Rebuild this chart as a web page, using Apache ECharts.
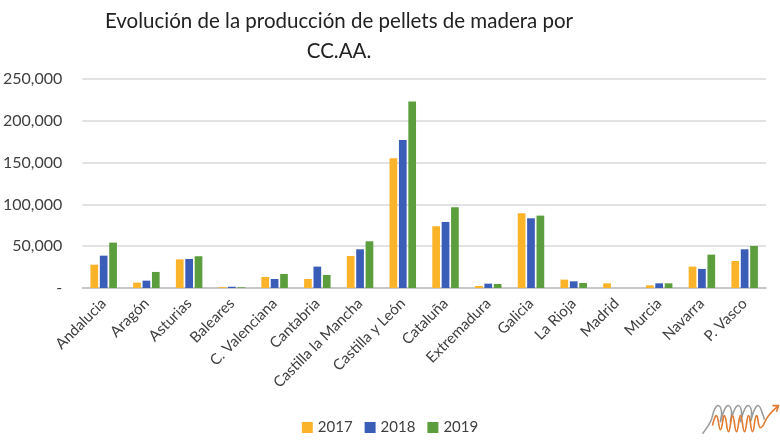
<!DOCTYPE html>
<html>
<head>
<meta charset="utf-8">
<script src="https://cdn.jsdelivr.net/npm/echarts@6/dist/echarts.min.js"></script>
<style>html,body{margin:0;padding:0;background:#fff;}#c{width:780px;height:440px;}</style>
</head>
<body>
<div id="c"></div>
<script>
const categories = ['Andalucia','Aragón','Asturias','Baleares','C. Valenciana','Cantabria','Castilla la Mancha','Castilla y León','Cataluña','Extremadura','Galicia','La Rioja','Madrid','Murcia','Navarra','P. Vasco'];
const years = ['2017','2018','2019'];
const v2017 = [27900, 6400, 34300, 1000, 13200, 10800, 38300, 155300, 73900, 2400, 89400, 10000, 5600, 3200, 25600, 32300];
const v2018 = [38700, 8800, 34700, 1500, 10800, 25600, 46300, 176900, 79000, 5200, 83400, 8000, 0, 5600, 22800, 46300];
const v2019 = [54300, 19200, 38000, 800, 16800, 15600, 55900, 223200, 96600, 4800, 86600, 6000, 0, 5600, 39900, 50300];
const yTicks = [0, 50000, 100000, 150000, 200000, 250000];

const colors = ['#FBB32A', '#3A5EB8', '#5C9E3E'];
const font = 'Lato';
const chart = echarts.init(document.getElementById('c'));
chart.setOption({
  backgroundColor: '#ffffff',
  animation: false,
  color: colors,
  title: {
    text: 'Evolución de la producción de pellets de madera por\nCC.AA.',
    left: 334, top: 1, textAlign: 'center',
    textStyle: { fontFamily: font, fontSize: 20.5, fontWeight: 'normal', color: '#222', lineHeight: 30 }
  },
  legend: {
    data: years, bottom: 0, left: 'center', itemWidth: 11, itemHeight: 11, itemGap: 12,
    icon: 'rect',
    textStyle: { fontFamily: font, fontSize: 15, color: '#404040' }
  },
  grid: { left: 78, right: 14, top: 79, bottom: 152 },
  xAxis: {
    type: 'category', data: categories,
    axisLine: { lineStyle: { color: '#bfbfbf', width: 1.5 } },
    axisTick: { show: false },
    axisLabel: { rotate: 45, interval: 0, fontFamily: font, fontSize: 15, color: '#404040', margin: 13 }
  },
  yAxis: {
    type: 'value', min: yTicks[0], max: yTicks[yTicks.length - 1], interval: 50000,
    axisLine: { show: false }, axisTick: { show: false },
    splitLine: { lineStyle: { color: '#d9d9d9', width: 1.5 } },
    axisLabel: {
      fontFamily: font, fontSize: 16, color: '#404040', margin: 20,
      formatter: v => v === 0 ? '-' : v.toLocaleString('en-US')
    }
  },
  series: [
    { name: years[0], type: 'bar', data: v2017, barGap: '22%', barCategoryGap: '38%' },
    { name: years[1], type: 'bar', data: v2018, barGap: '22%', barCategoryGap: '38%' },
    { name: years[2], type: 'bar', data: v2019, barGap: '22%', barCategoryGap: '38%' }
  ],
  graphic: [
    { type: 'group', left: 700, top: 403, children: [
      { type: 'polyline', shape: { points: [[0,32],[8,20],[12,8],[16,4],[19,10],[18,20],[22,8],[26,4],[29,10],[28,20],[32,8],[36,4],[39,10],[38,20],[42,8],[46,4],[49,10],[48,20],[52,8],[56,4],[60,12],[62,18]], smooth: 0.5 }, style: { stroke: '#9a9a9a', lineWidth: 1.5, fill: null } },
      { type: 'polyline', shape: { points: [[10,24],[14,14],[18,28],[22,14],[26,30],[30,14],[34,30],[38,14],[42,30],[46,14],[50,30],[54,14],[58,26],[66,14],[76,4]], smooth: 0.5 }, style: { stroke: '#E07A2E', lineWidth: 1.6, fill: null } },
      { type: 'polyline', shape: { points: [[70,4],[76,4],[74,10]] }, style: { stroke: '#E07A2E', lineWidth: 1.6, fill: null } }
    ]}
  ]
});
</script>
</body>
</html>
